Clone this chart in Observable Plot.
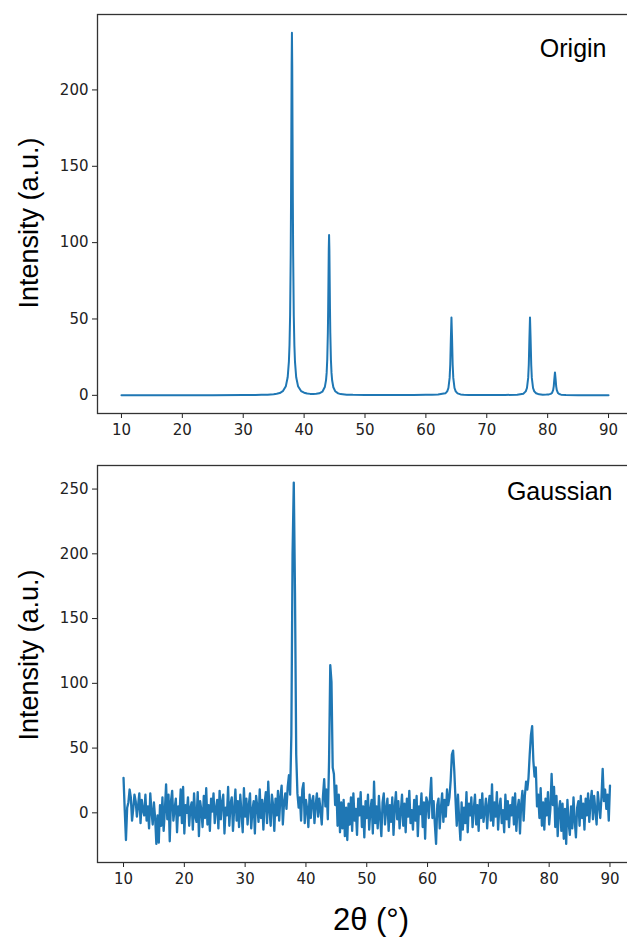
<!DOCTYPE html>
<html>
<head>
<meta charset="utf-8">
<script src="https://cdn.jsdelivr.net/npm/d3@7"></script>
<script src="https://cdn.jsdelivr.net/npm/@observablehq/plot@0.6"></script>
<style>
  html, body { margin: 0; padding: 0; background: #fff; }
  #fig { position: relative; width: 627px; height: 942px; overflow: hidden; background: #fff; }
  .panel { position: absolute; left: 0; }
  .axis-title {
    position: absolute;
    font-family: "Liberation Sans", Arial, sans-serif;
    font-size: 27px;
    color: #000;
    white-space: nowrap;
    line-height: 1;
  }
  .rot { transform: translate(-50%, -50%) rotate(-90deg); }
  .flat { transform: translate(-50%, -50%); font-size: 31px; }
</style>
</head>
<body>
<div id="fig"></div>
<script>
// Shared tick values
const xTicks = [10, 20, 30, 40, 50, 60, 70, 80, 90];
const originYTicks = [0, 50, 100, 150, 200];
const gaussYTicks = [0, 50, 100, 150, 200, 250];

// Clean diffraction profile: [2θ, intensity]
const originProfile = [
  [10, 0.05], [20, 0.07], [25, 0.1], [30, 0.15], [32, 0.25], [33, 0.3], [34, 0.4],
  [35, 0.7], [35.5, 1.0], [36, 1.5], [36.5, 2.7], [37, 6.0], [37.3, 11.8], [37.5, 22.1],
  [37.6, 32.8], [37.7, 52.6], [37.8, 92.7], [37.85, 126], [37.9, 171], [37.95, 216],
  [38, 237.5], [38.05, 216], [38.1, 171], [38.15, 126], [38.2, 92.7], [38.3, 52.6],
  [38.4, 32.8], [38.5, 22.1], [38.7, 11.8], [39, 6.0], [39.5, 2.8], [40, 1.7],
  [40.5, 1.2], [41, 0.95], [41.5, 0.9], [42, 1.0], [42.5, 1.35], [43, 2.4], [43.4, 5.4],
  [43.6, 10], [43.7, 14.7], [43.8, 23.5], [43.9, 41], [43.95, 56], [44, 75.5],
  [44.05, 95.7], [44.1, 105], [44.15, 95.7], [44.2, 75.5], [44.25, 56], [44.3, 41],
  [44.4, 23.5], [44.5, 14.7], [44.6, 9.9], [44.8, 5.3], [45.1, 2.7], [45.6, 1.3],
  [46, 0.8], [47, 0.45], [48, 0.3], [50, 0.2], [55, 0.15], [58, 0.18], [60, 0.3],
  [61, 0.4], [62, 0.55], [62.7, 1.0], [63.2, 1.3], [63.5, 2.6], [63.7, 4.8], [63.9, 11.4],
  [64, 20], [64.1, 36.7], [64.2, 51], [64.3, 36.7], [64.4, 20], [64.5, 11.4], [64.7, 4.8],
  [64.9, 2.6], [65.2, 1.3], [65.7, 0.6], [66.2, 0.4], [67, 0.25], [70, 0.2], [73, 0.25],
  [75, 0.4], [76, 1.1], [76.4, 2.6], [76.6, 4.8], [76.8, 11.4], [76.9, 20], [77, 36.7],
  [77.1, 51], [77.2, 36.7], [77.3, 20], [77.4, 11.4], [77.6, 4.8], [77.8, 2.6],
  [78.1, 1.35], [78.6, 0.65], [79.2, 0.45], [79.8, 0.5], [80.2, 0.6], [80.5, 0.95],
  [80.7, 1.5], [80.9, 3.4], [81, 5.9], [81.1, 10.8], [81.2, 15], [81.3, 10.8], [81.4, 5.9],
  [81.5, 3.4], [81.7, 1.5], [81.9, 0.85], [82.2, 0.45], [83, 0.2], [85, 0.1], [90, 0.05]
];

// Noisy pattern, sampled every 0.2° from 10° to 90°
const gaussStart = 10;
const gaussStep = 0.2;
const gaussIntensity = [
  27, 2, -21, 4, 8, 18, 12, -6, 3, 14, 9, -3, 6, 15, -8, 10, 2, -2, 14, -6,
  5, -12, 15, 1, -9, 8, -4, -24, -2, -23, 6, -10, 12, -14, 2, 22, -5, 14, -22, 9,
  17, -6, 3, 11, -15, 5, -2, 18, -8, 20, -16, 6, 0, 12, -10, 4, 8, -13, 15, -3,
  -7, 16, -18, 9, 2, -11, 13, -4, 19, -9, 6, -14, 11, 1, 15, -8, 3, 10, -12, 17,
  -5, 8, 14, -16, 4, -2, 20, -10, 7, 12, -14, 3, 18, -6, 9, -11, 14, 0, -15, 19,
  -3, 11, -9, 6, 15, -12, 2, 9, -16, 13, 5, -7, 18, -4, 10, -13, 7, 16, -8, 24,
  2, -10, 14, 6, -14, 11, -2, 17, -6, 12, 21, -9, 8, 15, 3, 20, 29, 14, 60, 200,
  255, 170, 45, 15, 4, 12, -6, 18, 23, -8, 10, 3, -11, 14, -4, 9, 13, -8, 6, 15,
  -3, 11, 2, -9, 13, 26, 5, 18, -5, 40, 114, 101, 35, 30, 6, 21, -10, 14, -15, 8,
  -12, 10, -18, 4, -21, 7, -9, 12, -14, 15, -6, 3, -17, 11, -2, 16, -11, 5, -19, 9,
  -4, 14, -13, 2, 10, -16, 24, -8, 5, -12, 13, -3, -18, 8, 15, -9, 3, 11, -14, 6,
  -7, 12, -17, 4, 16, -5, 9, -12, 1, 14, -10, 7, -15, 11, -3, 17, -8, 2, -13, 10,
  -6, 13, -18, 5, -1, 15, -11, 8, -20, 12, 8, -4, 12, 27, -4, 9, -9, -24, 6, 11,
  -12, 4, 15, -7, 10, -3, 18, 6, 12, 25, 45, 48, 32, 10, -10, 14, -5, -21, 8, -13,
  4, -8, 16, -15, 7, -2, 12, -11, 3, 14, -9, 6, -14, 10, -4, 15, -7, 1, 11, -12,
  5, 13, -6, 22, -10, 8, -3, 16, -13, 4, 11, -8, 2, -15, 14, -5, 9, -11, 6, -2,
  12, -9, 15, -14, 3, 10, -16, 7, 17, -6, 13, 24, 18, 27, 45, 60, 67, 40, 28, 35,
  5, 14, -4, 19, -10, 8, -13, 11, -2, 16, -9, 3, 30, 6, 20, -11, 13, -18, 2, 9,
  -14, 7, -20, 3, -24, 10, -8, -17, 5, -12, 12, -6, -19, 4, 9, -10, 13, -4, 7, -13,
  11, -2, 15, -7, 8, 17, -5, 13, 2, -9, 16, 6, -4, 12, 34, 9, 18, 3, 14, -6,
  21
];

const lineColor = "#1f77b4";
const frameColor = "#333";

const originData = originProfile.map(([t, v]) => ({theta: t, value: v}));
const gaussData = gaussIntensity.map((v, i) => ({theta: gaussStart + i * gaussStep, value: v}));

// One panel: the plot area runs past the right edge of the page, so its right border is not shown
function panel({data, yDomain, yTicks, height, marginTop, marginBottom, marginRight, xRange, title, dx, dy, lineWidth}) {
  return Plot.plot({
    width: 627,
    height,
    marginLeft: 97,
    marginRight,
    marginTop,
    marginBottom,
    style: {fontFamily: "DejaVu Sans", fontSize: "15px", color: "#222", background: "white", overflow: "hidden"},
    x: {domain: [6, 94], range: xRange, ticks: xTicks, tickSize: 5, tickPadding: 6, label: null, tickFormat: d => String(d)},
    y: {domain: yDomain, ticks: yTicks, tickSize: 5, tickPadding: 4, label: null, tickFormat: d => String(d)},
    marks: [
      Plot.line(data, {x: "theta", y: "value", stroke: lineColor, strokeWidth: lineWidth}),
      Plot.frame({stroke: frameColor, strokeWidth: 1.3}),
      Plot.text([title], {
        text: d => d,
        frameAnchor: "top-right",
        textAnchor: "end",
        lineAnchor: "top",
        dx, dy,
        fontSize: 25,
        fontFamily: "Liberation Sans",
        fill: "#000"
      })
    ]
  });
}

const fig = document.getElementById("fig");

const originChart = panel({
  data: originData,
  yDomain: [-11.9, 249.4],
  yTicks: originYTicks,
  height: 460,
  marginTop: 14,
  marginBottom: 47,
  marginRight: -6,
  xRange: [96.6, 632.4],
  title: "Origin",
  dx: -27,
  dy: 25,
  lineWidth: 2
});
const originWrap = document.createElement("div");
originWrap.className = "panel";
originWrap.style.top = "0px";
originWrap.appendChild(originChart);
fig.appendChild(originWrap);

const gaussChart = panel({
  data: gaussData,
  yDomain: [-38.35, 268.2],
  yTicks: gaussYTicks,
  height: 482,
  marginTop: 5,
  marginBottom: 80,
  marginRight: -7,
  xRange: [98.7, 633.8],
  title: "Gaussian",
  dx: -22,
  dy: 17,
  lineWidth: 2.3
});
const gaussWrap = document.createElement("div");
gaussWrap.className = "panel";
gaussWrap.style.top = "460px";
gaussWrap.appendChild(gaussChart);
fig.appendChild(gaussWrap);

// Axis titles
function addTitle(text, x, y, cls) {
  const d = document.createElement("div");
  d.className = "axis-title " + cls;
  d.style.left = x + "px";
  d.style.top = y + "px";
  d.textContent = text;
  fig.appendChild(d);
}
addTitle("Intensity (a.u.)", 29, 223, "rot");
addTitle("Intensity (a.u.)", 29, 655, "rot");
addTitle("2θ (°)", 371, 919, "flat");
</script>
</body>
</html>
